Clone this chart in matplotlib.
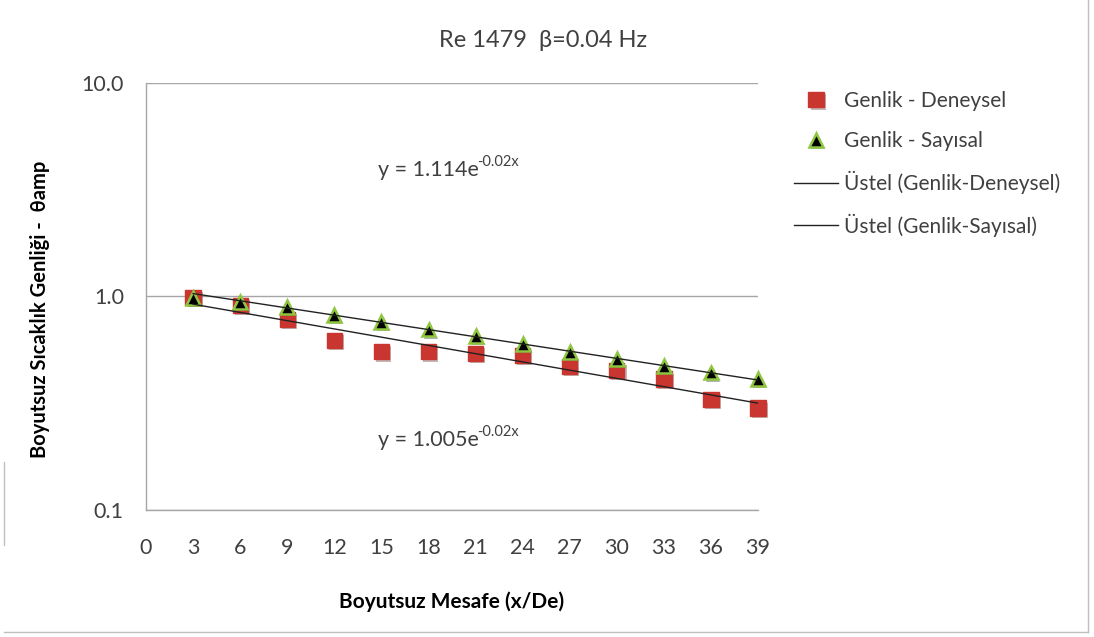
import numpy as np
import matplotlib
matplotlib.use('Agg')
import matplotlib.pyplot as plt
import matplotlib.patheffects as pe
from matplotlib.transforms import offset_copy
from matplotlib.ticker import FixedLocator, FuncFormatter, NullLocator

plt.rcParams['font.family'] = ['Lato', 'DejaVu Sans']

# boyutsuz mesafe ve genlikler
x_pos = [3, 6, 9, 12, 15, 18, 21, 24, 27, 30, 33, 36, 39]
genlik_deneysel = [0.99, 0.91, 0.78, 0.62, 0.55, 0.55, 0.54, 0.53, 0.47, 0.45, 0.41, 0.33, 0.30]
genlik_sayisal = [0.98, 0.94, 0.89, 0.82, 0.76, 0.70, 0.65, 0.60, 0.55, 0.51, 0.47, 0.44, 0.41]

# trend katsayilari (y = a*e^(b*x)), a degerleri denklem etiketlerinden
a_deneysel = 1.005
a_sayisal = 1.114

x_ticks = [0, 3, 6, 9, 12, 15, 18, 21, 24, 27, 30, 33, 36, 39]
y_ticks = [0.1, 1.0, 10.0]

text_col = '#404040'


def fit_rate(x, y, a):
    # least squares on log(y) with the coefficient held fixed
    x = np.asarray(x, float)
    ly = np.log(np.asarray(y, float)) - np.log(a)
    return np.sum(x * ly) / np.sum(x * x)


def eq_label(ax, x, y, a, fig):
    base = ax.text(x, y, f'y = {a:.3f}e', fontsize=15.5, color=text_col, va='center')
    fig.canvas.draw()
    w = base.get_window_extent().width * 72 / fig.dpi
    tr = offset_copy(ax.transData, fig=fig, x=w - 1.5, y=6, units='points')
    ax.text(x, y, '-0.02x', fontsize=10.5, color=text_col, va='center', transform=tr)


fig = plt.figure(figsize=(10.94, 6.37), dpi=100)
ax = fig.add_axes([0.1335, 0.1994, 0.5594, 0.6706])

shadow = [pe.SimplePatchShadow(offset=(1.5, -1.5), alpha=0.3), pe.Normal()]

xx = np.asarray(x_pos, float)
b_den = fit_rate(x_pos, genlik_deneysel, a_deneysel)
b_say = fit_rate(x_pos, genlik_sayisal, a_sayisal)

ax.plot(x_pos, genlik_deneysel, linestyle='none', marker='s', markersize=11,
        markerfacecolor='#c9352f', markeredgecolor='#c9352f', path_effects=shadow,
        label='Genlik - Deneysel', zorder=3, clip_on=False)
ax.plot(x_pos, genlik_sayisal, linestyle='none', marker='^', markersize=10,
        markerfacecolor='black', markeredgecolor='#8fc640', markeredgewidth=1.8,
        path_effects=shadow, label='Genlik - Sayısal', zorder=4, clip_on=False)
ax.plot(xx, a_deneysel * np.exp(b_den * xx), color='#222222', lw=1.0,
        label='Üstel (Genlik-Deneysel)', zorder=5)
ax.plot(xx, a_sayisal * np.exp(b_say * xx), color='#222222', lw=1.0,
        label='Üstel (Genlik-Sayısal)', zorder=5)

ax.set_yscale('log')
ax.set_ylim(0.1, 10)
ax.set_xlim(0, 39)
ax.yaxis.set_major_locator(FixedLocator(y_ticks))
ax.yaxis.set_minor_locator(NullLocator())
ax.yaxis.set_major_formatter(FuncFormatter(lambda v, p: f'{v:.1f}'))
ax.set_xticks(x_ticks)
ax.tick_params(axis='both', length=0, labelsize=15.5, labelcolor=text_col)
ax.tick_params(axis='x', pad=20)
ax.tick_params(axis='y', pad=16)

ax.yaxis.grid(True, color='#a6a6a6', lw=1.0)
ax.set_axisbelow(True)
for s in ['top', 'right']:
    ax.spines[s].set_visible(False)
for s in ['left', 'bottom']:
    ax.spines[s].set_color('#a6a6a6')
    ax.spines[s].set_linewidth(1.0)

ax.set_xlabel('Boyutsuz Mesafe (x/De)', fontsize=15, fontweight='bold', color='black')
ax.xaxis.set_label_coords(0.5, -0.19)
ax.set_ylabel('Boyutsuz Sıcaklık Genliği -  θamp', fontsize=14.5, fontweight='bold', color='black')
ax.yaxis.set_label_coords(-0.157, 0.47)

fig.text(0.496, 0.937, 'Re 1479  β=0.04 Hz', fontsize=17, color=text_col,
         ha='center', va='center')

# denklem etiketleri
eq_label(ax, 14.8, 3.9, a_sayisal, fig)
eq_label(ax, 14.8, 0.212, a_deneysel, fig)

leg = ax.legend(loc='upper left', bbox_to_anchor=(0.726, 0.857), bbox_transform=fig.transFigure,
                frameon=False, fontsize=15, handlelength=2.1, handletextpad=0.3,
                labelspacing=0.95, borderpad=0, borderaxespad=0)
for t in leg.get_texts():
    t.set_color(text_col)

# chart border
fig.add_artist(plt.Line2D([0.9945, 0.9945], [0.008, 1.0], transform=fig.transFigure,
                          color='#bfbfbf', lw=1.0))
fig.add_artist(plt.Line2D([0.004, 0.9945], [0.008, 0.008], transform=fig.transFigure,
                          color='#bfbfbf', lw=1.0))
fig.add_artist(plt.Line2D([0.004, 0.004], [0.145, 0.275], transform=fig.transFigure,
                          color='#bfbfbf', lw=1.0))

fig.savefig('out.png', dpi=100)
